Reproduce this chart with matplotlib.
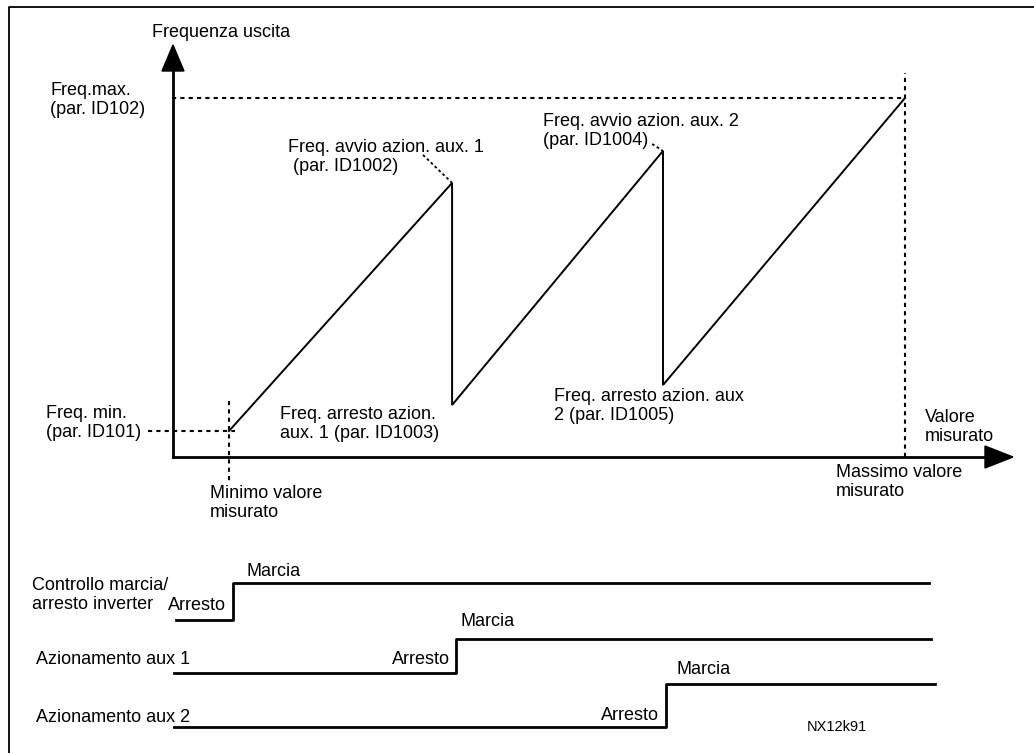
import matplotlib.pyplot as plt
from matplotlib.patches import Polygon

plt.rcParams['font.family'] = ['Liberation Sans', 'DejaVu Sans']

# output frequency ramp (x: measured value 0..100 %, y: frequency 0=min .. 100=max)
ramp_x = [0, 33.0, 33.0, 64.2, 64.2, 100]
ramp_f = [0, 74.5, 7.8, 84.1, 13.8, 100]

# start/stop signals: switch point along measured value axis
sig_names = ['Controllo marcia/\narresto inverter', 'Azionamento aux 1', 'Azionamento aux 2']
sig_switch = [0.6, 33.6, 64.6]
sig_start = [-7.8, -8.1, -8.1]
sig_end = [103.5, 103.8, 104.4]

W, H = 1034, 753
fig = plt.figure(figsize=(W / 100, H / 100), dpi=100)

# overlay in pixel units for frame, arrows and labels
ov = fig.add_axes([0, 0, 1, 1])
ov.set_xlim(0, W)
ov.set_ylim(H, 0)
ov.axis('off')

# frequency diagram axes: x 0..100 -> px 229..905, f 0..100 -> px 431..98
x0, x1, y0, y1 = 229, 905, 431, 98
ax = fig.add_axes([x0 / W, 1 - y0 / H, (x1 - x0) / W, (y0 - y1) / H])
ax.set_xlim(0, 100)
ax.set_ylim(0, 100)
ax.axis('off')

# timing axes shares x mapping, y in pixel units
axt = fig.add_axes([x0 / W, 0, (x1 - x0) / W, 1])
axt.set_xlim(0, 100)
axt.set_ylim(H, 0)
axt.axis('off')

# frame (only top/left visible)
ov.plot([9, 9, W + 5], [H + 5, 7, 7], color='black', lw=1.3, clip_on=False)

# axes arrows
ov.plot([173, 173], [457, 68], color='black', lw=2.0)
ov.add_patch(Polygon([[162, 71], [184, 71], [173, 45]], closed=True, color='black'))
ov.plot([173, 988], [457, 457], color='black', lw=2.0)
ov.add_patch(Polygon([[985, 446], [985, 468], [1013, 457]], closed=True, color='black'))

# guide lines
dash = dict(color='black', lw=1.5, ls=(0, (2, 2)), clip_on=False)
ax.plot([-8.4, 100], [100, 100], **dash)
ax.plot([100, 100], [0 - 7.8, 107.5], **dash)
ax.plot([-12.0, 0.9], [0, 0], **dash)
ax.plot([0, 0], [9.0, -15.3], **dash)

# leaders
dot = dict(color='black', lw=1.3, ls=(0, (1.5, 1.5)), clip_on=False)
ax.plot([28.7, ramp_x[1]], [82.9, ramp_f[1]], **dot)
ax.plot([62.6, ramp_x[3]], [86.2, ramp_f[3]], **dot)

# ramp
ax.plot(ramp_x, ramp_f, color='black', lw=1.4, clip_on=False, solid_joinstyle='miter')

# timing signals
base = [620, 673, 727]
high = [583, 639, 684]
for s0, sw, s1, b, h in zip(sig_start, sig_switch, sig_end, base, high):
    axt.plot([s0, sw, sw, s1], [b, b, h, h], color='black', lw=2.0, clip_on=False)

fs = 13
ls = 1.15
texts = [
    (152, 32, 'Frequenza uscita', 'left'),
    (50, 100, 'Freq.max.\n(par. ID102)', 'left'),
    (288, 157, 'Freq. avvio azion. aux. 1\n (par. ID1002)', 'left'),
    (543, 131, 'Freq. avvio azion. aux. 2\n(par. ID1004)', 'left'),
    (46, 423, 'Freq. min.\n(par. ID101)', 'left'),
    (280, 424, 'Freq. arresto azion.\naux. 1 (par. ID1003)', 'left'),
    (210, 503, 'Minimo valore\nmisurato', 'left'),
    (554, 406, 'Freq. arresto azion. aux\n2 (par. ID1005)', 'left'),
    (925, 427, 'Valore\nmisurato', 'left'),
    (836, 482, 'Massimo valore\nmisurato', 'left'),
    (32, 595, sig_names[0], 'left'),
    (36, 660, sig_names[1], 'left'),
    (36, 717, sig_names[2], 'left'),
    (168, 605, 'Arresto', 'left'),
    (246, 571, 'Marcia', 'left'),
    (392, 660, 'Arresto', 'left'),
    (460, 621, 'Marcia', 'left'),
    (659, 716, 'Arresto', 'right'),
    (676, 669, 'Marcia', 'left'),
]
for x, y, t, ha in texts:
    ov.text(x, y, t, fontsize=fs, ha=ha, va='center', linespacing=ls)
ov.text(807, 727, 'NX12k91', fontsize=10.5, ha='left', va='center')

fig.savefig('out.png', dpi=100)
